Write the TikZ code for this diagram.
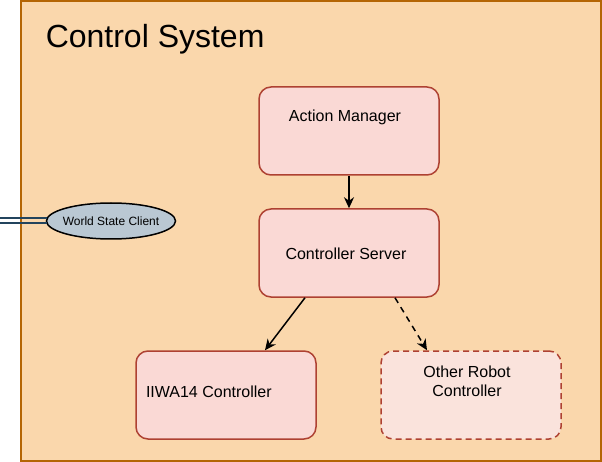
\documentclass[tikz,border=0pt]{standalone}
\usepackage{fontspec}
\setmainfont{Liberation Sans}
\definecolor{FrameFill}{HTML}{FAD7AC}
\definecolor{FrameLine}{HTML}{B46504}
\definecolor{UnitFill}{HTML}{FAD9D5}
\definecolor{UnitLine}{HTML}{AE4132}
\definecolor{PlanFill}{HTML}{FAE3DC}
\definecolor{ClientFill}{HTML}{BAC8D3}
\definecolor{ClientLine}{HTML}{23445D}
\usetikzlibrary{shapes,shapes.misc,positioning,calc,arrows.meta}
\tikzset{control layout/.style={%
    y=-1pt,%
    x=1pt,%
    every node/.style={%
        inner sep=0pt, font=\fontsize{16}{19}\selectfont%
    },%
    every path/.style={%
        line width=1.5pt%
    }%
}}
\tikzset{unit box/.style={%
    rectangle, rounded corners=12pt, draw=UnitLine, fill=UnitFill,
    line width=1.5pt, minimum width=180pt, minimum height=88pt
}}
\tikzset{unit box planned/.style={%
    unit box, fill=PlanFill, dashed, dash pattern=on 6pt off 4pt
}}
\tikzset{flow/.style={%
    black, -{Stealth[width=10pt,length=11pt,inset=3.5pt]}
}}
\tikzset{client link/.style={%
    ClientLine, line width=2pt
}}

\begin{document}
\begin{tikzpicture}[control layout]
            \useasboundingbox (0,0) rectangle (602,462);
            \draw[FrameLine, fill=FrameFill, line width=2pt] (21,1) rectangle (601,461);
            \node[anchor=west, font=\fontsize{32}{38}\selectfont] (title) at (45,39) {Control System};

            \node[unit box, label={[xshift=-4pt, yshift=14pt]center:Action Manager}] (am) at (349,131) {};
            \node[unit box, label={[xshift=-3pt, yshift=-1pt]center:Controller Server}] (cs) at (349,253) {};
            \node[unit box, label={[anchor=west, xshift=10pt, yshift=3pt]west:IIWA14 Controller}] (iiwa) at (226,395) {};
            \node[unit box planned, label={[xshift=-4pt, yshift=14pt, align=center, font=\fontsize{16}{19}\selectfont]center:Other Robot\\Controller}] (orc) at (471,395) {};

            \node[ellipse, draw=black, fill=ClientFill, inner xsep=-3pt, minimum width=129pt, minimum height=36pt, font=\fontsize{12}{14}\selectfont] (wsc) at (111,221) {World State Client};
            \coordinate (wsin) at (0,221);

            \draw[flow] (am) -- (cs);
            \draw[flow] ([xshift=-44pt]cs.south) -- ([xshift=39pt]iiwa.north);
            \draw[flow, dashed, dash pattern=on 6pt off 5pt] ([xshift=46pt]cs.south) -- ([xshift=-44pt]orc.north);

            \foreach \s in {-2.5,2.5} {
                \draw[client link] ([yshift=\s pt]wsin) -- ([yshift=\s pt, xshift=1pt]wsc.west);
            }
        \end{tikzpicture}
\end{document}
